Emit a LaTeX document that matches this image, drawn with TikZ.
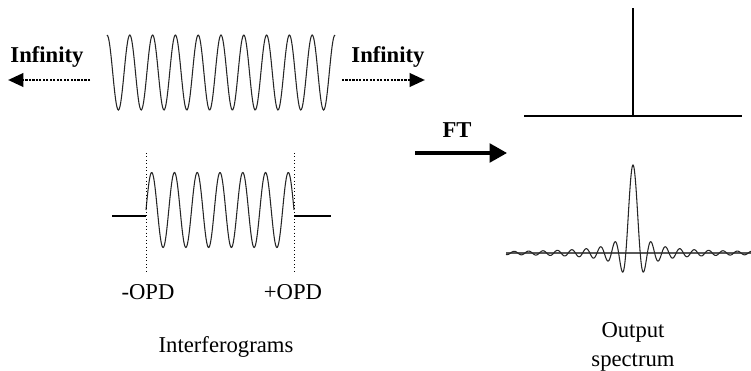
\documentclass[tikz,border=0pt]{standalone}
\usepackage{fontspec}
\setmainfont{Liberation Serif}
\usetikzlibrary{arrows.meta,positioning}

\begin{document}
\begin{tikzpicture}[x=0.75pt,y=-0.75pt,
    lbl/.style={font=\fontsize{17}{21.5}\selectfont},
    blbl/.style={font=\fontsize{17}{21.5}\selectfont\bfseries},
    wave/.style={line width=0.8pt,black!85},
    dotarrow/.style={-{Triangle[length=11.5pt,width=10pt]},line width=2pt,dash pattern=on 1.6pt off 1pt},
    ftarrow/.style={-{Triangle[length=13pt,width=14pt]},line width=2.4pt},
    axisline/.style={line width=1.6pt},
    flatline/.style={line width=1.9pt},
    opdline/.style={line width=0.6pt,dotted}]
  \useasboundingbox (0,0) rectangle (751,371);

  % infinite interferogram
  \draw[wave] plot[domain=107:335,samples=300] (\x,{72.5-37.5*cos(15.789*(\x-107))});
  \node[blbl] (infL) at (47,57) {Infinity};
  \node[blbl] (infR) at (388,57) {Infinity};
  \coordinate (infLs) at (90,80);
  \coordinate (infLe) at (8,80);
  \coordinate (infRs) at (342,80);
  \coordinate (infRe) at (425,80);
  \draw[dotarrow] (infLs) -- (infLe);
  \draw[dotarrow] (infRs) -- (infRe);

  % truncated interferogram
  \coordinate (flatL) at (112,216);
  \coordinate (opdL) at (146,216);
  \coordinate (opdR) at (294,216);
  \coordinate (flatR) at (331,216);
  \draw[flatline] (flatL) -- (opdL);
  \draw[flatline] (opdR) -- (flatR);
  \draw[wave] plot[domain=146:294,samples=250] (\x,{210-37.5*sin(15.81*(\x-146))});
  \coordinate (opdLt) at (146,153);
  \coordinate (opdLb) at (146,273);
  \coordinate (opdRt) at (294,153);
  \coordinate (opdRb) at (294,273);
  \draw[opdline] (opdLt) -- (opdLb);
  \draw[opdline] (opdRt) -- (opdRb);
  \node[lbl] (mopd) at (148,292) {-OPD};
  \node[lbl] (popd) at (293,292) {+OPD};
  \node[lbl] (interf) at (226,347) {Interferograms};

  % Fourier transform
  \node[blbl] (ft) at (457,130) {FT};
  \coordinate (fts) at (415,153);
  \coordinate (fte) at (507,153);
  \draw[ftarrow] (fts) -- (fte);

  % line spectrum
  \coordinate (sL) at (524,116);
  \coordinate (sR) at (742,116);
  \coordinate (sB) at (633,116);
  \coordinate (sT) at (633,8);
  \draw[axisline] (sL) -- (sR);
  \draw[axisline] (sB) -- (sT);

  % sinc spectrum
  \coordinate (bL) at (506,253);
  \coordinate (bR) at (751,253);
  \draw[line width=0.8pt,black!65] (bL) -- (bR);
  \draw[wave] plot[domain=506:751,samples=800]
    (\x,{253-88*sin(25*(\x-633.01))/(0.43633*(\x-633.01))});
  \node[lbl,align=center] (output) at (633,347) {Output\\spectrum};
\end{tikzpicture}
\end{document}
